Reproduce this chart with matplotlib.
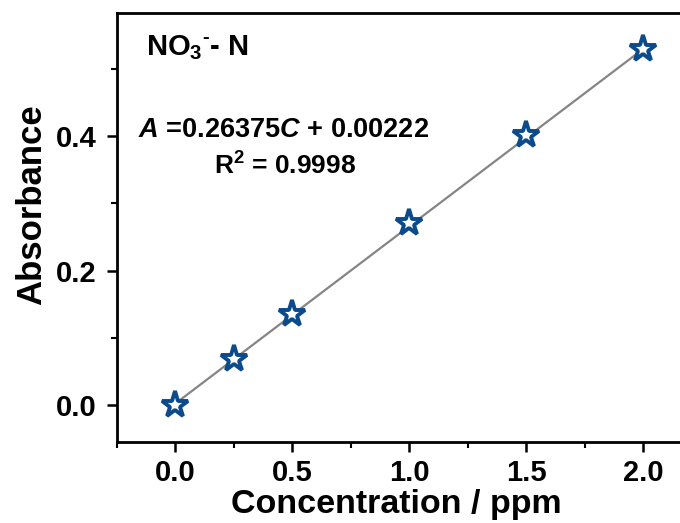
import matplotlib
matplotlib.use("Agg")
import matplotlib.pyplot as plt
import numpy as np
from matplotlib.ticker import MultipleLocator

plt.rcParams['font.family'] = ['Liberation Sans', 'DejaVu Sans']
plt.rcParams['font.weight'] = 'bold'
plt.rcParams['mathtext.fontset'] = 'custom'
plt.rcParams['mathtext.rm'] = 'Liberation Sans:bold'
plt.rcParams['mathtext.it'] = 'Liberation Sans:bold:italic'
plt.rcParams['mathtext.bf'] = 'Liberation Sans:bold'

# Calibration data
concentration = [0.0, 0.25, 0.5, 1.0, 1.5, 2.0]
absorbance = [0.000, 0.068, 0.136, 0.271, 0.401, 0.530]
slope = 0.26375
intercept = 0.00222
r_squared = 0.9998

x_ticks = [0.0, 0.5, 1.0, 1.5, 2.0]
y_ticks = [0.0, 0.2, 0.4]

fig = plt.figure(figsize=(6.8, 5.23), dpi=100)
ax = fig.add_axes([0.172, 0.155, 0.86, 0.82])

fit_x = np.array([concentration[0], concentration[-1]])
ax.plot(fit_x, slope * fit_x + intercept, color='#858585', lw=1.6, zorder=2)
ax.plot(concentration, absorbance, linestyle='none', marker='*', markersize=20,
        markerfacecolor='white', markeredgecolor='#0b4a8b', markeredgewidth=2.8,
        zorder=3)

ax.set_xlim(-0.25, 2.25)
ax.set_ylim(-0.055, 0.583)
ax.set_xticks(x_ticks)
ax.set_yticks(y_ticks)
ax.set_xticklabels([f"{v:.1f}" for v in x_ticks])
ax.set_yticklabels([f"{v:.1f}" for v in y_ticks])
ax.xaxis.set_minor_locator(MultipleLocator(0.25))
ax.yaxis.set_minor_locator(MultipleLocator(0.1))

ax.tick_params(which='major', direction='out', length=7, width=1.8,
               labelsize=21, pad=5)
ax.tick_params(axis='y', which='major', pad=8)
ax.tick_params(which='minor', direction='out', length=4, width=1.5)
ax.tick_params(top=False, right=False, which='both')
for s in ax.spines.values():
    s.set_linewidth(2)

ax.set_xlabel('Concentration / ppm', fontsize=24.5, fontweight='bold')
ax.set_ylabel('Absorbance', fontsize=25, fontweight='bold')
ax.xaxis.set_label_coords(0.477, -0.110)
ax.yaxis.set_label_coords(-0.118, 0.553)

ax.text(146, 523 - 55, r'NO$_3$$^{\text{-}}$- N', transform=None, fontsize=21,
        fontweight='bold', ha='left', va='baseline')
ax.text(138, 523 - 137, r'$\mathit{A}$ =0.26375$\mathit{C}$ + 0.00222',
        transform=None, fontsize=19.5, fontweight='bold', ha='left', va='baseline')
ax.text(214, 523 - 175, r'R$^2$ = 0.9998', transform=None, fontsize=19,
        fontweight='bold', ha='left', va='baseline')

fig.savefig('out.png', dpi=100)
